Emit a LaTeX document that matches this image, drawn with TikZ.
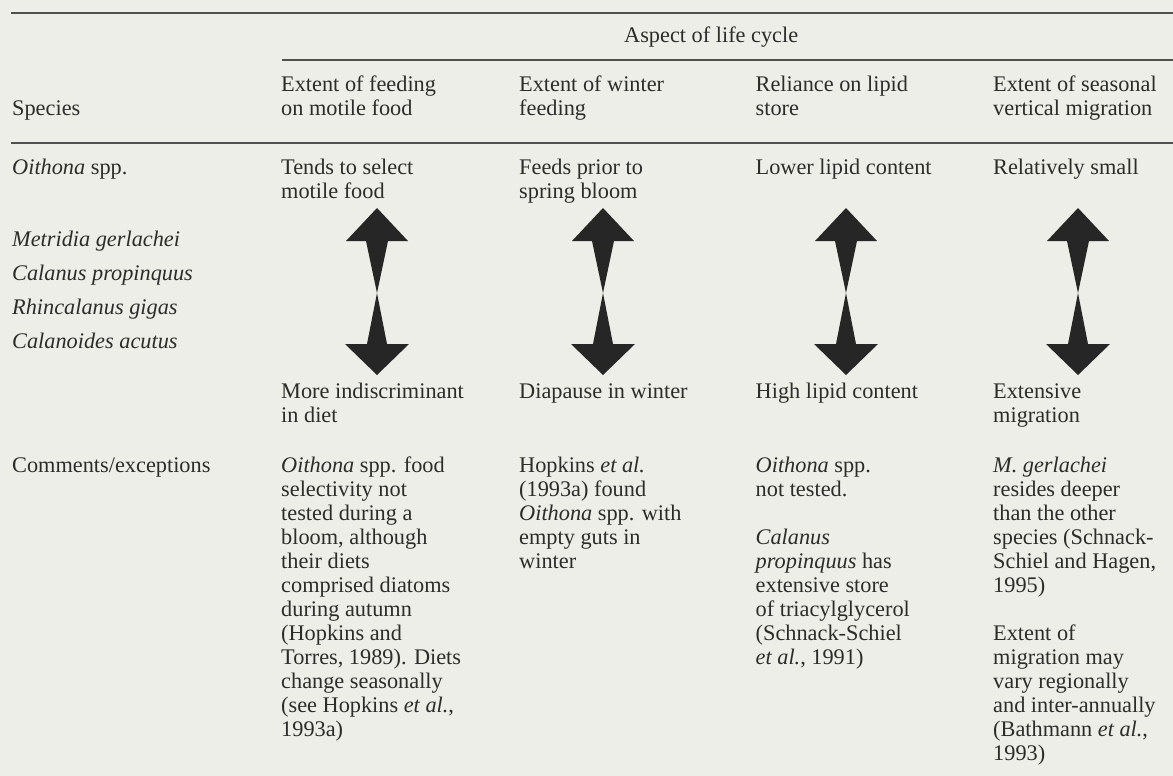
\documentclass[tikz,border=0pt]{standalone}
\usepackage{fontspec}
\setmainfont{Liberation Serif}
\definecolor{bgc}{RGB}{237,238,232}
\definecolor{ink}{RGB}{44,44,42}
\definecolor{rulec}{RGB}{80,81,79}
\definecolor{arrowc}{RGB}{38,38,38}
\tikzset{
  txt/.style={anchor=base west, inner sep=0pt, align=left, text=ink,
    font=\fontsize{22.3}{24}\selectfont},
  tablerule/.style={draw=rulec, line width=1.6pt},
  dblarrow/.pic={
    \fill[arrowc] (0,-85) -- (31,-52) -- (11,-52) -- (0,0) -- (-11,-52) -- (-31,-52) -- cycle;
    \fill[arrowc] (0,0) -- (10,51) -- (32,51) -- (0,82) -- (-32,51) -- (-10,51) -- cycle;
  }
}
\begin{document}
\begin{tikzpicture}[x=1pt,y=-1pt]
\fill[bgc] (0,0) rectangle (1173,776);
\useasboundingbox (0,0) rectangle (1173,776);

% rules
\coordinate (r1a) at (11,13);  \coordinate (r1b) at (1173,13);
\coordinate (r2a) at (282,60); \coordinate (r2b) at (1173,60);
\coordinate (r3a) at (11,143); \coordinate (r3b) at (1173,143);
\draw[tablerule] (r1a) -- (r1b);
\draw[tablerule] (r2a) -- (r2b);
\draw[tablerule] (r3a) -- (r3b);

% header (multi-line nodes are placed by the baseline of their last line)
\node[txt] (aspect) at (624,43) {Aspect of life cycle};
\node[txt] (species) at (12,115) {Species};
\node[txt] (h2) at (281,115) {Extent of feeding\\on motile food};
\node[txt] (h3) at (519,115) {Extent of winter\\feeding};
\node[txt] (h4) at (755.5,115) {Reliance on lipid\\store};
\node[txt] (h5) at (993,115) {Extent of seasonal\\vertical migration};

% first row
\node[txt] (s1) at (12,174) {\textit{Oithona} spp.};
\node[txt] (t2) at (281,198) {Tends to select\\motile food};
\node[txt] (t3) at (519,198) {Feeds prior to\\spring bloom};
\node[txt] (t4) at (755.5,174) {Lower lipid content};
\node[txt] (t5) at (993,174) {Relatively small};

% species list
\node[txt] (s2) at (12,246) {\textit{Metridia gerlachei}};
\node[txt] (s3) at (12,280) {\textit{Calanus propinquus}};
\node[txt] (s4) at (12,314) {\textit{Rhincalanus gigas}};
\node[txt] (s5) at (12,348) {\textit{Calanoides acutus}};

% arrows
\pic (a2) at (377,293) {dblarrow};
\pic (a3) at (603,293) {dblarrow};
\pic (a4) at (846,293) {dblarrow};
\pic (a5) at (1078,293) {dblarrow};

% bottom row
\node[txt] (b2) at (281,422) {More indiscriminant\\in diet};
\node[txt] (b3) at (519,398) {Diapause in winter};
\node[txt] (b4) at (755.5,398) {High lipid content};
\node[txt] (b5) at (993,422) {Extensive\\migration};

% comments
\node[txt] (c1) at (12,472) {Comments/exceptions};
\node[txt] (c2) at (281,736) {\textit{Oithona} spp. food\\selectivity not\\tested during a\\bloom, although\\their diets\\comprised diatoms\\during autumn\\(Hopkins and\\Torres, 1989). Diets\\change seasonally\\(see Hopkins \textit{et al.},\\1993a)};
\node[txt] (c3) at (519,568) {Hopkins \textit{et al.}\\(1993a) found\\\textit{Oithona} spp. with\\empty guts in\\winter};
\node[txt] (c4) at (755.5,664) {\textit{Oithona} spp.\\not tested.\\[24pt]\textit{Calanus}\\\textit{propinquus} has\\extensive store\\of triacylglycerol\\(Schnack-Schiel\\\textit{et al.}, 1991)};
\node[txt] (c5) at (993,760) {\textit{M. gerlachei}\\resides deeper\\than the other\\species (Schnack-\\Schiel and Hagen,\\1995)\\[24pt]Extent of\\migration may\\vary regionally\\and inter-annually\\(Bathmann \textit{et al.},\\1993)};
\end{tikzpicture}
\end{document}
